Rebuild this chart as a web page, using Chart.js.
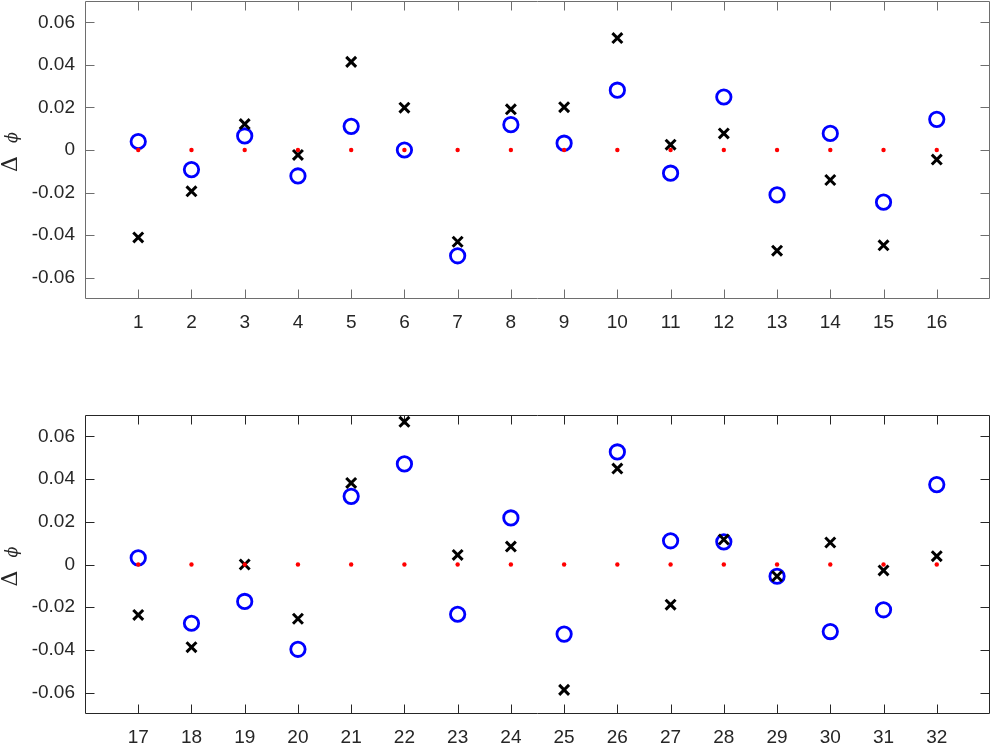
<!DOCTYPE html>
<html>
<head>
<meta charset="utf-8">
<script src="https://cdn.jsdelivr.net/npm/chart.js@4.4.0/dist/chart.umd.min.js"></script>
<style>
  html, body { margin: 0; padding: 0; background: #fff; }
  #page { position: relative; width: 992px; height: 746px; overflow: hidden; }
  canvas { position: absolute; left: 0; }
</style>
</head>
<body>
<div id="page">
  <canvas id="topChart" width="1000" height="354" style="top:-9px"></canvas>
  <canvas id="botChart" width="1000" height="374" style="top:372px"></canvas>
</div>
<script>
// values
const topCats = [1, 2, 3, 4, 5, 6, 7, 8, 9, 10, 11, 12, 13, 14, 15, 16];
const topCircle = [0.0040, -0.0092, 0.0066, -0.0122, 0.0111, 0.0000, -0.0497, 0.0119, 0.0032, 0.0281,
                   -0.0109, 0.0249, -0.0211, 0.0078, -0.0245, 0.0144];
const topCross = [-0.0411, -0.0194, 0.0122, -0.0023, 0.0414, 0.0199, -0.0431, 0.0191, 0.0201, 0.0526,
                  0.0025, 0.0078, -0.0473, -0.0141, -0.0448, -0.0045];
const topRef = [0, 0, 0, 0, 0, 0, 0, 0, 0, 0, 0, 0, 0, 0, 0, 0];

const botCats = [17, 18, 19, 20, 21, 22, 23, 24, 25, 26, 27, 28, 29, 30, 31, 32];
const botCircle = [0.0031, -0.0275, -0.0173, -0.0397, 0.0319, 0.0471, -0.0233, 0.0218, -0.0326, 0.0527,
                   0.0111, 0.0106, -0.0055, -0.0314, -0.0212, 0.0374];
const botCross = [-0.0236, -0.0387, 0.0000, -0.0254, 0.0382, 0.0668, 0.0045, 0.0084, -0.0587, 0.0449,
                  -0.0188, 0.0117, -0.0055, 0.0103, -0.0028, 0.0039];
const botRef = [0, 0, 0, 0, 0, 0, 0, 0, 0, 0, 0, 0, 0, 0, 0, 0];

const yTicks = [-0.06, -0.04, -0.02, 0, 0.02, 0.04, 0.06];

const TEXT = '#262626';
const tickFont = { family: 'Liberation Sans, Arial, sans-serif', size: 19 };

// matlab-ish box with inward ticks on all sides + the y label
const framePlugin = {
  id: 'frame',
  beforeDatasetsDraw(chart, args, opts) {
    const { ctx, chartArea: a, scales: { x, y } } = chart;
    const L = Math.round(a.left) + 0.5, R = Math.round(a.right) - 0.5;
    const T = Math.round(a.top) + 0.5, B = Math.round(a.bottom) - 0.5;
    ctx.save();
    ctx.strokeStyle = opts.color;
    ctx.lineWidth = 1;
    ctx.beginPath();
    ctx.rect(L, T, R - L, B - T);
    x.ticks.forEach(t => {
      const px = Math.round(x.getPixelForValue(t.value)) + 0.5;
      ctx.moveTo(px, B); ctx.lineTo(px, B - 9);
      ctx.moveTo(px, T); ctx.lineTo(px, T + 9);
    });
    y.ticks.forEach(t => {
      const py = Math.round(y.getPixelForValue(t.value)) + 0.5;
      ctx.moveTo(L, py); ctx.lineTo(L + 9, py);
      ctx.moveTo(R, py); ctx.lineTo(R - 9, py);
    });
    ctx.stroke();

    // y axis label
    const cy = (a.top + a.bottom) / 2;
    ctx.translate(0, cy);
    ctx.rotate(-Math.PI / 2);
    ctx.fillStyle = TEXT;
    ctx.textBaseline = 'alphabetic';
    ctx.textAlign = 'left';
    ctx.font = '22px "DejaVu Serif", serif';
    ctx.fillText('Δ', -22, 17);
    ctx.font = 'italic 16px "DejaVu Serif", serif';
    ctx.fillText('ϕ', 7, 17);
    ctx.restore();
  }
};

function pts(cats, vals) {
  return cats.map((c, i) => ({ x: c, y: vals[i] }));
}

function makeChart(id, cats, circ, cross, ref, xmin, xmax, padTop, xAxisH, frameColor) {
  const ctx = document.getElementById(id).getContext('2d');
  return new Chart(ctx, {
    type: 'scatter',
    data: {
      datasets: [
        {
          label: 'ref',
          data: pts(cats, ref),
          pointStyle: 'circle',
          pointRadius: 2.2,
          pointBorderWidth: 0,
          backgroundColor: '#ff0000',
          borderColor: '#ff0000',
          order: 0
        },
        {
          label: 'cross',
          data: pts(cats, cross),
          pointStyle: 'crossRot',
          pointRadius: 7,
          pointBorderWidth: 3,
          borderColor: '#000000',
          backgroundColor: '#000000',
          order: 1
        },
        {
          label: 'circle',
          data: pts(cats, circ),
          pointStyle: 'circle',
          pointRadius: 7.2,
          pointBorderWidth: 2.8,
          borderColor: '#0000ff',
          backgroundColor: 'rgba(0,0,0,0)',
          order: 2
        }
      ]
    },
    options: {
      responsive: false,
      animation: false,
      events: [],
      layout: { padding: { top: padTop, right: 3, left: 0, bottom: 0 } },
      plugins: {
        legend: { display: false },
        tooltip: { enabled: false },
        frame: { color: frameColor }
      },
      scales: {
        x: {
          type: 'linear',
          min: xmin,
          max: xmax,
          afterBuildTicks: s => { s.ticks = cats.map(v => ({ value: v })); },
          afterFit: s => {
            s.height = xAxisH;
            s.paddingLeft = 0; s.paddingRight = 0;
          },
          grid: { display: false, drawTicks: false },
          border: { display: false },
          ticks: {
            color: TEXT,
            font: tickFont,
            padding: 12,
            maxRotation: 0,
            autoSkip: false,
            callback: v => String(v)
          }
        },
        y: {
          min: -0.07,
          max: 0.07,
          afterBuildTicks: s => { s.ticks = yTicks.map(v => ({ value: v })); },
          afterFit: s => {
            s.width = 85;
            s.paddingTop = 0; s.paddingBottom = 0;
          },
          grid: { display: false, drawTicks: false },
          border: { display: false },
          ticks: {
            color: TEXT,
            font: tickFont,
            padding: 10,
            callback: v => (Math.abs(v) < 1e-9 ? '0' : v.toFixed(2))
          }
        }
      }
    },
    plugins: [framePlugin]
  });
}

makeChart('topChart', topCats, topCircle, topCross, topRef, 0, 17, 1, 46, '#6e6e6e');
makeChart('botChart', botCats, botCircle, botCross, botRef, 16, 33, 43, 32, '#262626');
</script>
</body>
</html>
